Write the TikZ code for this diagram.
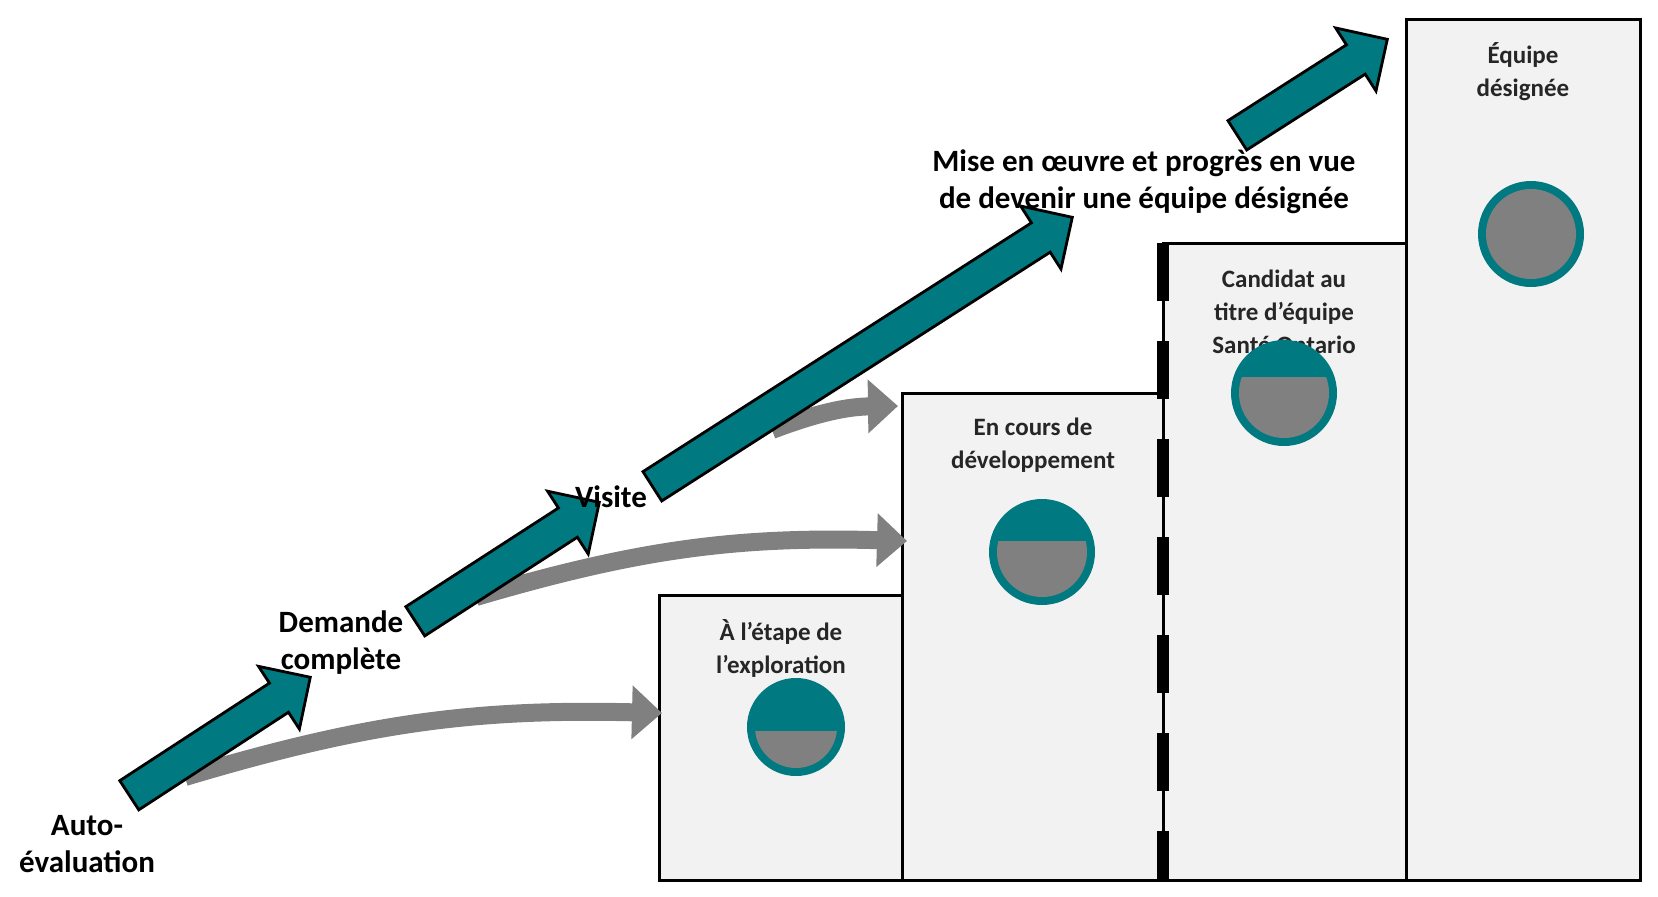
\documentclass[tikz,border=0pt]{standalone}
\usepackage{fontspec}
\setmainfont{Carlito}
\usetikzlibrary{shapes.arrows,arrows.meta,calc}
\definecolor{tealc}{RGB}{0,122,128}
\definecolor{boxc}{RGB}{242,242,242}
\definecolor{grayc}{RGB}{128,128,128}
\tikzset{
 stage/.style={draw=black,line width=3pt,fill=boxc},
 big/.style={font=\fontsize{31}{37}\selectfont\bfseries,align=center},
 lbl/.style={font=\fontsize{25}{33}\selectfont\bfseries,align=center,text=black!85},
 tarrow/.style={shape=single arrow,fill=tealc,draw=black,line width=2.8pt,inner xsep=0pt,inner ysep=16pt,single arrow head extend=20pt,text height=0pt,text depth=0pt},
 garrow/.style={draw=grayc,line width=18pt,-{Triangle[length=30pt,width=52pt]}},
}
\begin{document}
\begin{tikzpicture}[x=1pt,y=-1pt]
\useasboundingbox (0,0) rectangle (1658,897);
% boxes
\draw[stage] (1406,19) rectangle (1640,880);
\draw[stage] (1163,243) rectangle (1406,880);
\draw[stage] (902,393) rectangle (1163,880);
\draw[stage] (659,595) rectangle (902,880);
\draw[line width=3pt] (1163,243) -- (1163,880);
\draw[line width=12pt,dash pattern=on 58pt off 40pt] (1163,243) -- (1163,880);
% box labels
\node[lbl] (l1) at (781,648) {À l’étape de\\l’exploration};
\node[lbl] (l2) at (1033,445) {En cours de\\développement};
\node[lbl] (l3) at (1284,312) {Candidat au\\titre d’équipe\\Santé Ontario};
\node[lbl] (l4) at (1523,72) {Équipe\\désignée};
% circles
\foreach \n/\cx/\cy/\r/\off in {1/796/727/49/4, 2/1042/552/53/-11, 3/1284/393/53/-16, 4/1531/234/53/-70}{
  \fill[tealc] (\cx,\cy) circle (\r);
  \begin{scope}
    \clip (\cx,\cy) circle (\r-8);
    \fill[grayc] (\cx-\r,\cy+\off) rectangle (\cx+\r,\cy+\r);
  \end{scope}
  \coordinate (c\n) at (\cx,\cy);
}
% gray arrows
\coordinate (g1s) at (185,777); \coordinate (g1e) at (662,713);
\coordinate (g2s) at (476,597); \coordinate (g2e) at (907,541);
\coordinate (g3s) at (772,430); \coordinate (g3e) at (898,406);
\draw[garrow] (g1s) to[bend left=9] (g1e);
\draw[garrow] (g2s) to[bend left=9] (g2e);
\draw[garrow] (g3s) to[bend left=10] (g3e);
% teal arrows
\foreach \i/\ax/\ay/\bx/\by in {1/122/800/303/682, 2/408/626/592/507, 3/645/491/1065/222, 4/1230/140/1380/44}{
  \coordinate (a\i s) at (\ax,\ay); \coordinate (a\i e) at (\bx,\by);
  \path let \p1=($(a\i e)-(a\i s)$), \n1={atan2(\y1,\x1)}, \n2={veclen(\x1,\y1)} in
    node[tarrow,minimum height=\n2,rotate=\n1] (ta\i) at ($(a\i s)!0.5!(a\i e)$) {};
}
% stage labels
\node[big] (t1) at (87,844) {Auto-\\évaluation};
\node[big] (t2) at (341,643) {Demande\\complète};
\node[big] (t3) at (611,497) {Visite};
\node[big] (t4) at (1144,182) {Mise en œuvre et progrès en vue\\de devenir une équipe désignée};
\end{tikzpicture}
\end{document}
